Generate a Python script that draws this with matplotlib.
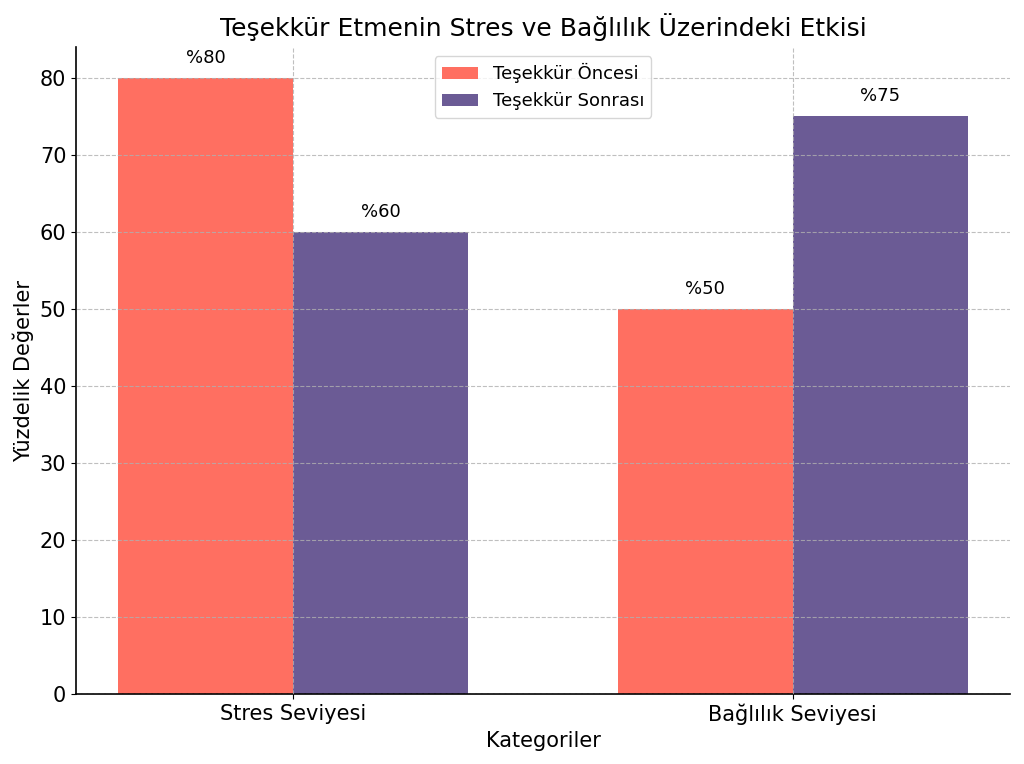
import matplotlib
matplotlib.use("Agg")
import matplotlib.pyplot as plt
import numpy as np

categories = ["Stres Seviyesi", "Bağlılık Seviyesi"]
before = [80, 50]
after = [60, 75]
series_names = ["Teşekkür Öncesi", "Teşekkür Sonrası"]

fig = plt.figure(figsize=(10.24, 7.64), dpi=100)
ax = fig.add_axes([76/1024, 1-694/764, (1010-76)/1024, (694-47)/764])

x = np.arange(len(categories))
w = 0.35
b1 = ax.bar(x - w/2, before, w, label=series_names[0], color="#FF6F61")
b2 = ax.bar(x + w/2, after, w, label=series_names[1], color="#6B5B95")

for bars in (b1, b2):
    for r in bars:
        ax.annotate(f"%{int(r.get_height())}", (r.get_x() + r.get_width()/2, r.get_height()),
                    xytext=(0, 8), textcoords="offset points", ha="center", va="bottom", fontsize=13)

ax.set_xticks(x)
ax.set_xticklabels(categories, fontsize=15)
ax.tick_params(axis="y", labelsize=15)
ax.set_xlabel("Kategoriler", fontsize=15)
ax.set_ylabel("Yüzdelik Değerler", fontsize=15)
ax.set_title("Teşekkür Etmenin Stres ve Bağlılık Üzerindeki Etkisi", fontsize=18, pad=8)
ax.grid(True, linestyle="--", color="#b0b0b0", alpha=0.8, linewidth=0.8)
ax.set_axisbelow(False)
ax.spines["top"].set_visible(False)
ax.spines["right"].set_visible(False)
ax.spines["left"].set_linewidth(1.2)
ax.spines["bottom"].set_linewidth(1.2)
ax.legend(loc="upper center", fontsize=13)

fig.savefig("out.png", dpi=100)
